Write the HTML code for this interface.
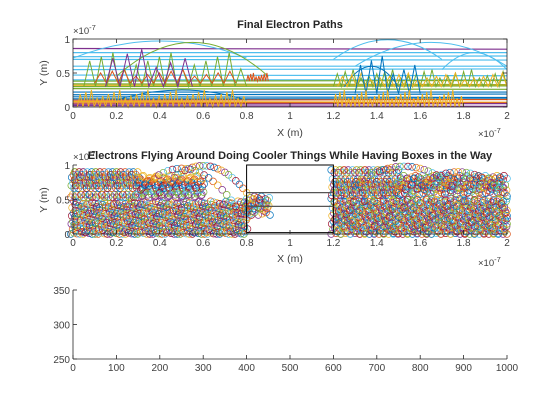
<!DOCTYPE html>
<html><head><meta charset="utf-8"><style>
body{margin:0;background:#fff;}
svg{display:block;font-family:"Liberation Sans",Arial,sans-serif;}
</style></head><body>
<svg id="fig" width="560" height="420" viewBox="0 0 560 420" xmlns="http://www.w3.org/2000/svg">
<rect width="560" height="420" fill="#fff"/>
<g id="p1"></g>
<g id="p2"></g>
<g id="p3"></g>
</svg>
<script>
const colors=["#0072BD","#D95319","#EDB120","#7E2F8E","#77AC30","#4DBEEE","#A2142F"];
const xTicksA=[0,0.2,0.4,0.6,0.8,1,1.2,1.4,1.6,1.8,2];
const yTicksA=[0,0.5,1];
const xTicksC=[0,100,200,300,400,500,600,700,800,900,1000];
const yTicksC=[250,300,350];
// plot1: horizontal path levels [y, colorIndex, xStart, xEnd]
const hLevels=[[0.86,3,0,2],[0.8,5,0,2],[0.74,5,0,2],[0.7,5,0,2],[0.6,5,0,2],[0.55,5,0,2],[0.47,5,0,2],[0.4,5,0,2],[0.38,4,0,2],[0.34,4,0,2],[0.32,2,0,2],[0.3,4,0,2],[0.27,4,0,2],[0.22,0,0,2],[0.18,0,0,2],[0.15,0,0,2],[0.12,0,0,2],[0.1,1,0,2],[0.08,2,0,2],[0.06,1,0,2],[0.04,3,0,2],[0.02,3,0,2]];
// plot1: spiky segments [xStart,xEnd,base,peak,colorIndex,count]
const spikes=[[0.05,0.8,0.3,0.8,4,14],[0.1,0.75,0.35,0.55,1,12],[0.15,0.55,0.3,0.85,3,6],[1.2,2,0.3,0.55,4,22],[1.22,2,0.3,0.5,2,18],[1.3,1.6,0.2,0.75,0,6],[0.02,0.8,0.0,0.25,2,30],[1.2,1.8,0.0,0.25,2,30],[0.8,0.9,0.38,0.5,1,8]];
// plot1: arcs [x0,x1,base,peak,colorIndex]
const arcs=[[0,0.8,0.72,0.97,5],[0.2,0.9,0.45,0.95,4],[1.2,1.7,0.7,0.99,5],[1.3,2,0.6,0.95,5],[1.7,2,0.55,0.8,5],[0.2,0.8,0.1,0.25,0],[1.25,1.5,0.3,0.6,0]];
// plot2: dense clouds [x0,x1,y0,y1]
const clouds=[[0,0.8,0,0.45],[0,0.3,0.55,0.92],[0.3,0.6,0.55,0.85],[1.2,2,0,0.5],[1.2,1.5,0.55,0.95],[1.5,2,0.6,0.85],[0.8,0.9,0.3,0.55]];
// plot2: arc trails [x0,x1,base,peak]
const trails=[[0.4,0.8,0.6,0.99],[0.25,0.75,0.4,0.95],[1.3,1.75,0.7,0.98],[1.55,2,0.55,0.9]];
const NS="http://www.w3.org/2000/svg";
const TC="#404040";
function mk(p,t,a){const e=document.createElementNS(NS,t);for(const k in a)e.setAttribute(k,a[k]);p.appendChild(e);return e;}
function axes(g,L,T,W,H,xs,ys,xt,yt,fx,fy,box){
  const ax=mk(g,"g",{});
  
  
  if(box){mk(ax,"rect",{x:L,y:T,width:W,height:H,fill:"none",stroke:"#262626","stroke-width":0.8});}
  else{mk(ax,"line",{x1:L,y1:T+H,x2:L+W,y2:T+H,stroke:"#262626","stroke-width":0.8});mk(ax,"line",{x1:L,y1:T,x2:L,y2:T+H,stroke:"#262626","stroke-width":0.8});}
  xt.forEach(v=>{const x=xs(v);mk(ax,"line",{x1:x,y1:T+H,x2:x,y2:T+H-4,stroke:"#262626","stroke-width":0.8});if(box)mk(ax,"line",{x1:x,y1:T,x2:x,y2:T+4,stroke:"#262626","stroke-width":0.8});
    const t=mk(ax,"text",{x:x,y:T+H+12,"text-anchor":"middle","font-size":10,fill:TC});t.textContent=fx(v);
    
    });
  yt.forEach(v=>{const y=ys(v);mk(ax,"line",{x1:L,y1:y,x2:L+4,y2:y,stroke:"#262626","stroke-width":0.8});if(box)mk(ax,"line",{x1:L+W,y1:y,x2:L+W-4,y2:y,stroke:"#262626","stroke-width":0.8});
    const t=mk(ax,"text",{x:L-3,y:y+4,"text-anchor":"end","font-size":10,fill:TC});t.textContent=fy(v);
    
    });
}
function txt(g,x,y,s,opts,name){const t=mk(g,"text",Object.assign({x:x,y:y,fill:"#262626","font-size":11},opts));t.textContent=s;
  
  return t;}
function exp(g,x,y){const t=mk(g,"text",{x:x,y:y,"font-size":9.5,fill:TC});t.innerHTML='×10<tspan dy="-4" font-size="7.5">-7</tspan>';
  
  }
const fmt=v=>String(v);
const fmtY=v=>String(v);
// ---- Plot 1
const p1=document.getElementById("p1");
const L=73,W=434;
const x1=v=>L+v/2*W, y1=v=>107-v*68;
const cl1=mk(p1,"g",{});
hLevels.forEach((h,i)=>{const l=mk(cl1,"line",{x1:x1(h[2]),x2:x1(h[3]),y1:y1(h[0]),y2:y1(h[0]+(i%3-1)*0.01),stroke:colors[h[1]],"stroke-width":1.2});
  
  });
arcs.forEach(a=>{const xm=(a[0]+a[1])/2;const p=mk(cl1,"path",{d:`M${x1(a[0])},${y1(a[2])} Q${x1(xm)},${y1(2*a[3]-a[2])} ${x1(a[1])},${y1(a[2])}`,fill:"none",stroke:colors[a[4]],"stroke-width":1});
  
  });
spikes.forEach(s=>{let d="";const n=s[5];for(let i=0;i<=n*2;i++){const x=s[0]+(s[1]-s[0])*i/(n*2);const y=i%2?s[3]-((i*7)%5)*(s[3]-s[2])*0.12:s[2];d+=(i?"L":"M")+x1(x).toFixed(1)+","+y1(y).toFixed(1);}
  const p=mk(cl1,"path",{d:d,fill:"none",stroke:colors[s[4]],"stroke-width":1});
  
  });
axes(p1,L,39,W,68,x1,y1,xTicksA,yTicksA,fmt,fmtY,true);
txt(p1,290,28,"Final Electron Paths",{"text-anchor":"middle","font-weight":"bold"},"title-paths");
txt(p1,290,136,"X (m)",{"text-anchor":"middle","font-size":10.5,fill:TC},"x-axis-title-paths");
txt(p1,0,0,"Y (m)",{"text-anchor":"middle","font-size":10.5,fill:TC,transform:"translate(47,73) rotate(-90)"},"y-axis-title-paths");
exp(p1,73,34);exp(p1,478,137);
// ---- Plot 2
const p2=document.getElementById("p2");
const y2=v=>234-v*69;
const cl2=mk(p2,"g",{});
let ci=0;
clouds.forEach(c=>{for(let x=c[0];x<=c[1]+1e-9;x+=0.014){for(let y=c[2];y<=c[3]+1e-9;y+=0.045){
  const jx=((ci*37)%11-5)*0.002, jy=((ci*53)%9-4)*0.006;
  const e=mk(cl2,"circle",{cx:x1(Math.min(2,x+jx)).toFixed(1),cy:y2(Math.max(0,y+jy)).toFixed(1),r:3.4,fill:"none",stroke:colors[ci%7],"stroke-width":0.7});
  
  ci++;}}});
trails.forEach(t=>{for(let i=0;i<=24;i++){const u=i/24;const x=t[0]+(t[1]-t[0])*u;const y=t[2]+(t[3]-t[2])*4*u*(1-u);
  const e=mk(cl2,"circle",{cx:x1(x).toFixed(1),cy:y2(y).toFixed(1),r:3.4,fill:"none",stroke:colors[(ci++)%7],"stroke-width":0.7});
  
  }});
const bx=mk(p2,"g",{});


mk(bx,"path",{d:`M${x1(0.8)},${y2(0.02)}V${y2(1)}H${x1(1.2)}V${y2(0.02)}Z`,fill:"none",stroke:"#000","stroke-width":1});
mk(bx,"line",{x1:x1(0.8),x2:x1(1.2),y1:y2(0.6),y2:y2(0.6),stroke:"#555","stroke-width":1.2});
mk(bx,"line",{x1:x1(0.8),x2:x1(1.2),y1:y2(0.4),y2:y2(0.4),stroke:"#555","stroke-width":1.2});
axes(p2,L,165,W,69,x1,y2,xTicksA,yTicksA,fmt,fmtY,false);
txt(p2,290,262,"X (m)",{"text-anchor":"middle","font-size":10.5,fill:TC},"x-axis-title-scatter");
txt(p2,0,0,"Y (m)",{"text-anchor":"middle","font-size":10.5,fill:TC,transform:"translate(47,200) rotate(-90)"},"y-axis-title-scatter");
exp(p2,73,160);exp(p2,478,266);
txt(p2,290,159,"Electrons Flying Around Doing Cooler Things While Having Boxes in the Way",{"text-anchor":"middle","font-weight":"bold"},"title-scatter");
// ---- Plot 3
const p3=document.getElementById("p3");
const x3=v=>L+v/1000*W, y3=v=>359-(v-250)/100*69;
axes(p3,L,290,W,69,x3,y3,xTicksC,yTicksC,String,String,false);
</script>
</body></html>
